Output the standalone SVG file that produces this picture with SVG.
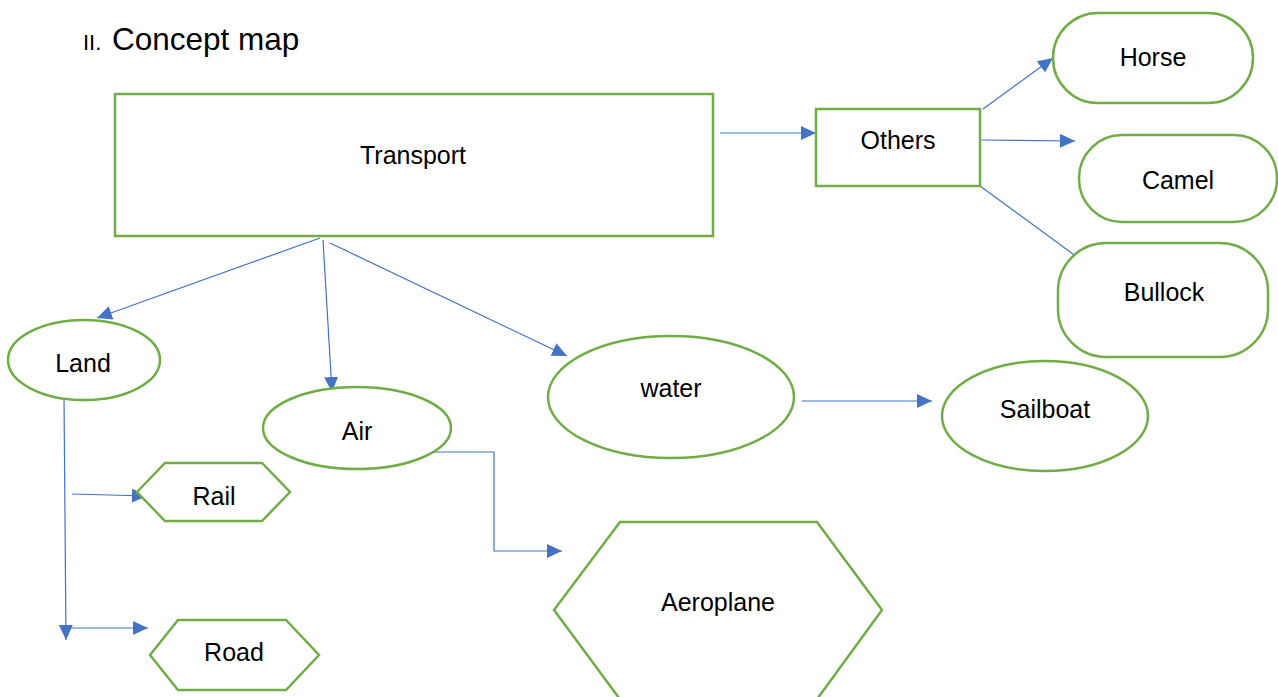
<svg xmlns="http://www.w3.org/2000/svg" width="1278" height="697" viewBox="0 0 1278 697">
<style>
.n{fill:#fff;stroke:#70AD47;stroke-width:2.5}
.t{font-family:"Liberation Sans",Arial,sans-serif;font-size:25px;fill:#000;text-anchor:middle}
.c{fill:none;stroke:#4472C4;stroke-width:1.2}
</style>
<defs>
<marker id="a" markerUnits="userSpaceOnUse" markerWidth="16" markerHeight="14" refX="15" refY="7" orient="auto">
<path d="M0,0 L15,7 L0,14 Z" fill="#4472C4"/>
</marker>
</defs>
<rect width="1278" height="697" fill="#fff"/>
<text y="50" font-family="Liberation Sans,Arial,sans-serif" fill="#000"><tspan x="83" font-size="22">II.</tspan><tspan x="112" font-size="31.5">Concept map</tspan></text>
<g id="connectors">
<line class="c" x1="720" y1="133" x2="816" y2="133" marker-end="url(#a)"/>
<line class="c" x1="983" y1="109" x2="1053" y2="58" marker-end="url(#a)"/>
<line class="c" x1="980" y1="140" x2="1075" y2="141" marker-end="url(#a)"/>
<line class="c" x1="980" y1="186" x2="1092" y2="268" marker-end="url(#a)"/>
<line class="c" x1="320" y1="238" x2="97" y2="318" marker-end="url(#a)"/>
<line class="c" x1="323" y1="240" x2="332" y2="392" marker-end="url(#a)"/>
<line class="c" x1="330" y1="243" x2="567" y2="356" marker-end="url(#a)"/>
<line class="c" x1="802" y1="401" x2="932" y2="401" marker-end="url(#a)"/>
<polyline class="c" points="427,452 494,452 494,551 562,551" marker-end="url(#a)"/>
<line class="c" x1="64" y1="396" x2="66" y2="640" marker-end="url(#a)"/>
<line class="c" x1="66" y1="628" x2="148" y2="628" marker-end="url(#a)"/>
<line class="c" x1="72" y1="494" x2="147" y2="496" marker-end="url(#a)"/>
</g>
<g id="transport"><rect class="n" x="115" y="94" width="598" height="142"/><text class="t" x="413" y="164">Transport</text></g>
<g id="others"><rect class="n" x="816" y="109" width="164" height="77"/><text class="t" x="898" y="149">Others</text></g>
<g id="horse"><rect class="n" x="1053" y="13" width="200" height="90" rx="45"/><text class="t" x="1153" y="66">Horse</text></g>
<g id="camel"><rect class="n" x="1079" y="135" width="198" height="87" rx="43"/><text class="t" x="1178" y="189">Camel</text></g>
<g id="bullock"><rect class="n" x="1058" y="243" width="210" height="114" rx="48"/><text class="t" x="1164" y="301">Bullock</text></g>
<g id="land"><ellipse class="n" cx="84" cy="360" rx="76" ry="40"/><text class="t" x="83" y="372">Land</text></g>
<g id="air"><ellipse class="n" cx="357" cy="428" rx="94" ry="41"/><text class="t" x="357" y="440">Air</text></g>
<g id="water"><ellipse class="n" cx="671" cy="397" rx="123" ry="61"/><text class="t" x="671" y="397">water</text></g>
<g id="sailboat"><ellipse class="n" cx="1045" cy="416" rx="103" ry="55"/><text class="t" x="1045" y="418">Sailboat</text></g>
<g id="rail"><polygon class="n" points="137,492 165,463 262,463 290,492 262,521 165,521"/><text class="t" x="214" y="505">Rail</text></g>
<g id="road"><polygon class="n" points="150,655 178,620 286,620 319,655 286,690 178,690"/><text class="t" x="234" y="661">Road</text></g>
<g id="aeroplane"><polygon class="n" points="554,610 620,522 817,522 882,610 815,702 622,702"/><text class="t" x="718" y="611">Aeroplane</text></g>
</svg>
